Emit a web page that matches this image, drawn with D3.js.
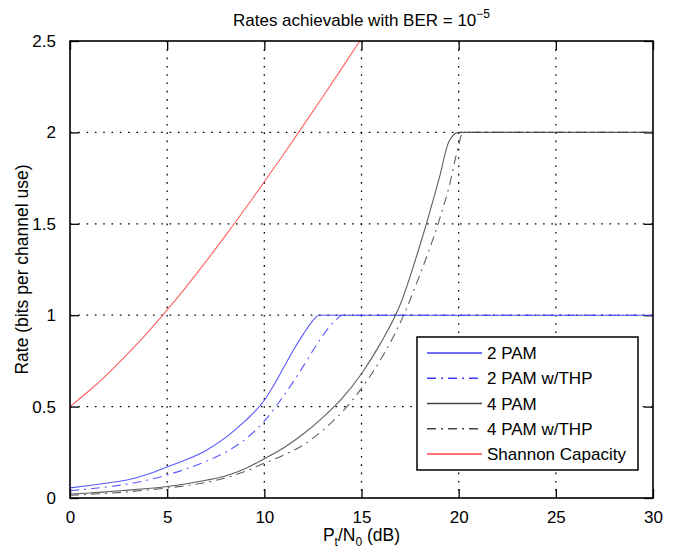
<!DOCTYPE html>
<html>
<head>
<meta charset="utf-8">
<script src="https://cdn.jsdelivr.net/npm/d3@7"></script>
<style>
  body { margin: 0; background: #fff; }
  text { font-family: "Liberation Sans", Arial, sans-serif; fill: #000; }
</style>
</head>
<body>
<script>
// tick labels
const xTicks = [0, 5, 10, 15, 20, 25, 30];
const yTicks = [0, 0.5, 1, 1.5, 2, 2.5];

// series (x in dB, y in bits per channel use)
const pam2X = [0, 1, 2, 3, 4, 5, 6, 7, 8, 9, 10, 10.5, 11, 11.5, 12, 12.5, 12.8, 30];
const pam2Y = [0.055, 0.068, 0.083, 0.10, 0.13, 0.17, 0.21, 0.26, 0.33, 0.42, 0.535, 0.62, 0.715, 0.81, 0.895, 0.97, 1.0, 1.0];

const pam2thpX = [0, 1, 2, 3, 4, 5, 6, 7, 8, 9, 10, 11, 12, 12.7, 13.3, 13.7, 14, 30];
const pam2thpY = [0.04, 0.05, 0.062, 0.077, 0.098, 0.126, 0.16, 0.2, 0.25, 0.32, 0.42, 0.56, 0.72, 0.84, 0.93, 0.975, 1.0, 1.0];

const pam4X = [0, 1, 2, 3, 4, 5, 6, 7, 8, 9, 10, 11, 12, 13, 14, 15, 16, 17, 18, 19, 19.5, 20, 30];
const pam4Y = [0.022, 0.027, 0.035, 0.043, 0.052, 0.063, 0.078, 0.097, 0.12, 0.16, 0.215, 0.275, 0.35, 0.44, 0.545, 0.68, 0.85, 1.06, 1.38, 1.75, 1.95, 2.0, 2.0];

const pam4thpX = [0, 1, 2, 3, 4, 5, 6, 7, 8, 9, 10, 11, 12, 13, 14, 15, 16, 17, 18, 19, 19.5, 20, 20.2, 30];
const pam4thpY = [0.015, 0.02, 0.026, 0.034, 0.044, 0.055, 0.068, 0.085, 0.11, 0.145, 0.19, 0.235, 0.29, 0.37, 0.47, 0.6, 0.76, 0.96, 1.22, 1.52, 1.7, 1.93, 2.0, 2.0];

const shannonX = [0, 1, 2, 3, 4, 5, 6, 7, 8, 9, 10, 11, 12, 13, 14, 15];
const shannonY = [0.5, 0.588, 0.685, 0.792, 0.906, 1.029, 1.158, 1.294, 1.435, 1.581, 1.73, 1.882, 2.037, 2.194, 2.353, 2.514];

const legendNames = ["2 PAM", "2 PAM w/THP", "4 PAM", "4 PAM w/THP", "Shannon Capacity"];

const W = 683, H = 549;
const m = {left: 70, right: 30, top: 41, bottom: 51};
const iw = W - m.left - m.right, ih = H - m.top - m.bottom;

const svg = d3.select("body").append("svg")
  .attr("width", W)
  .attr("height", H);

const x = d3.scaleLinear().domain([0, 30]).range([0, iw]);
const y = d3.scaleLinear().domain([0, 2.5]).range([ih, 0]);

const g = svg.append("g").attr("transform", `translate(${m.left},${m.top})`);

svg.append("defs").append("clipPath").attr("id", "plotclip")
  .append("rect").attr("width", iw).attr("height", ih);

// dotted grid
g.append("g").selectAll("line").data(xTicks.slice(1, -1)).enter().append("line")
  .attr("x1", d => x(d)).attr("x2", d => x(d))
  .attr("y1", 0).attr("y2", ih)
  .attr("stroke", "#000").attr("stroke-width", 1.3).attr("stroke-dasharray", "1.6,6.7");
g.append("g").selectAll("line").data(yTicks.slice(1, -1)).enter().append("line")
  .attr("y1", d => y(d)).attr("y2", d => y(d))
  .attr("x1", 0).attr("x2", iw)
  .attr("stroke", "#000").attr("stroke-width", 1.3).attr("stroke-dasharray", "1.6,6.7");

// axes with inward ticks
const tickLen = 9;
g.append("g").attr("transform", `translate(0,${ih})`)
  .call(d3.axisBottom(x).tickValues(xTicks).tickSizeInner(-tickLen).tickSizeOuter(0).tickPadding(13));
g.append("g")
  .call(d3.axisLeft(y).tickValues(yTicks).tickFormat(d3.format("~g")).tickSizeInner(-tickLen).tickSizeOuter(0).tickPadding(14));
g.append("g")
  .call(d3.axisTop(x).tickValues(xTicks).tickSizeInner(-tickLen).tickSizeOuter(0).tickFormat(""));
g.append("g").attr("transform", `translate(${iw},0)`)
  .call(d3.axisRight(y).tickValues(yTicks).tickSizeInner(-tickLen).tickSizeOuter(0).tickFormat(""));
g.selectAll(".domain").remove();
g.selectAll(".tick line").attr("stroke", "#000").attr("stroke-width", 1.3);
g.selectAll(".tick text").style("font-size", "17px").attr("fill", "#000");

// curves
const line = d3.line().curve(d3.curveMonotoneX).x(d => x(d[0])).y(d => y(d[1]));
const series = [
  {xs: pam2X, ys: pam2Y, color: "#3c3cff", dash: null},
  {xs: pam2thpX, ys: pam2thpY, color: "#3c3cff", dash: "9,5,2,5"},
  {xs: pam4X, ys: pam4Y, color: "#444", dash: null},
  {xs: pam4thpX, ys: pam4thpY, color: "#444", dash: "9,5,2,5"},
  {xs: shannonX, ys: shannonY, color: "#ff4545", dash: null}
];
const curves = g.append("g").attr("clip-path", "url(#plotclip)");
series.forEach(s => {
  curves.append("path")
    .datum(d3.zip(s.xs, s.ys))
    .attr("d", line)
    .attr("fill", "none")
    .attr("stroke", s.color)
    .attr("stroke-width", 1.1)
    .attr("stroke-opacity", 0.85)
    .attr("stroke-dasharray", s.dash);
});

// box
g.append("rect").attr("width", iw).attr("height", ih)
  .attr("fill", "none").attr("stroke", "#000").attr("stroke-width", 1.6);

// legend
const lg = svg.append("g").attr("transform", "translate(417,337)");
lg.append("rect").attr("width", 221).attr("height", 133)
  .attr("fill", "#fff").attr("stroke", "#000").attr("stroke-width", 1.5);
const ly = d3.scalePoint().domain(legendNames).range([16, 117]);
legendNames.forEach((name, i) => {
  lg.append("line")
    .attr("x1", 10).attr("x2", 65)
    .attr("y1", ly(name)).attr("y2", ly(name))
    .attr("stroke", series[i].color).attr("stroke-width", 1.6)
    .attr("stroke-dasharray", series[i].dash);
  lg.append("text")
    .attr("x", 70).attr("y", ly(name))
    .attr("dy", "0.36em")
    .style("font-size", "17px")
    .text(name);
});

// title
const title = svg.append("text")
  .attr("x", m.left + iw / 2).attr("y", 26)
  .attr("text-anchor", "middle")
  .style("font-size", "17px");
title.append("tspan").text("Rates achievable with BER = 10");
title.append("tspan").attr("dy", -8).style("font-size", "12px").text("\u22125");

// axis labels
const xl = svg.append("text")
  .attr("x", m.left + iw / 2).attr("y", 541)
  .attr("text-anchor", "middle")
  .style("font-size", "17.5px");
xl.append("tspan").text("P");
xl.append("tspan").attr("dy", 5).style("font-size", "12px").text("t");
xl.append("tspan").attr("dy", -5).text("/N");
xl.append("tspan").attr("dy", 5).style("font-size", "12px").text("0");
xl.append("tspan").attr("dy", -5).text(" (dB)");

svg.append("text")
  .attr("transform", `translate(28,${m.top + ih / 2}) rotate(-90)`)
  .attr("text-anchor", "middle")
  .style("font-size", "17.5px")
  .text("Rate (bits per channel use)");
</script>
</body>
</html>
